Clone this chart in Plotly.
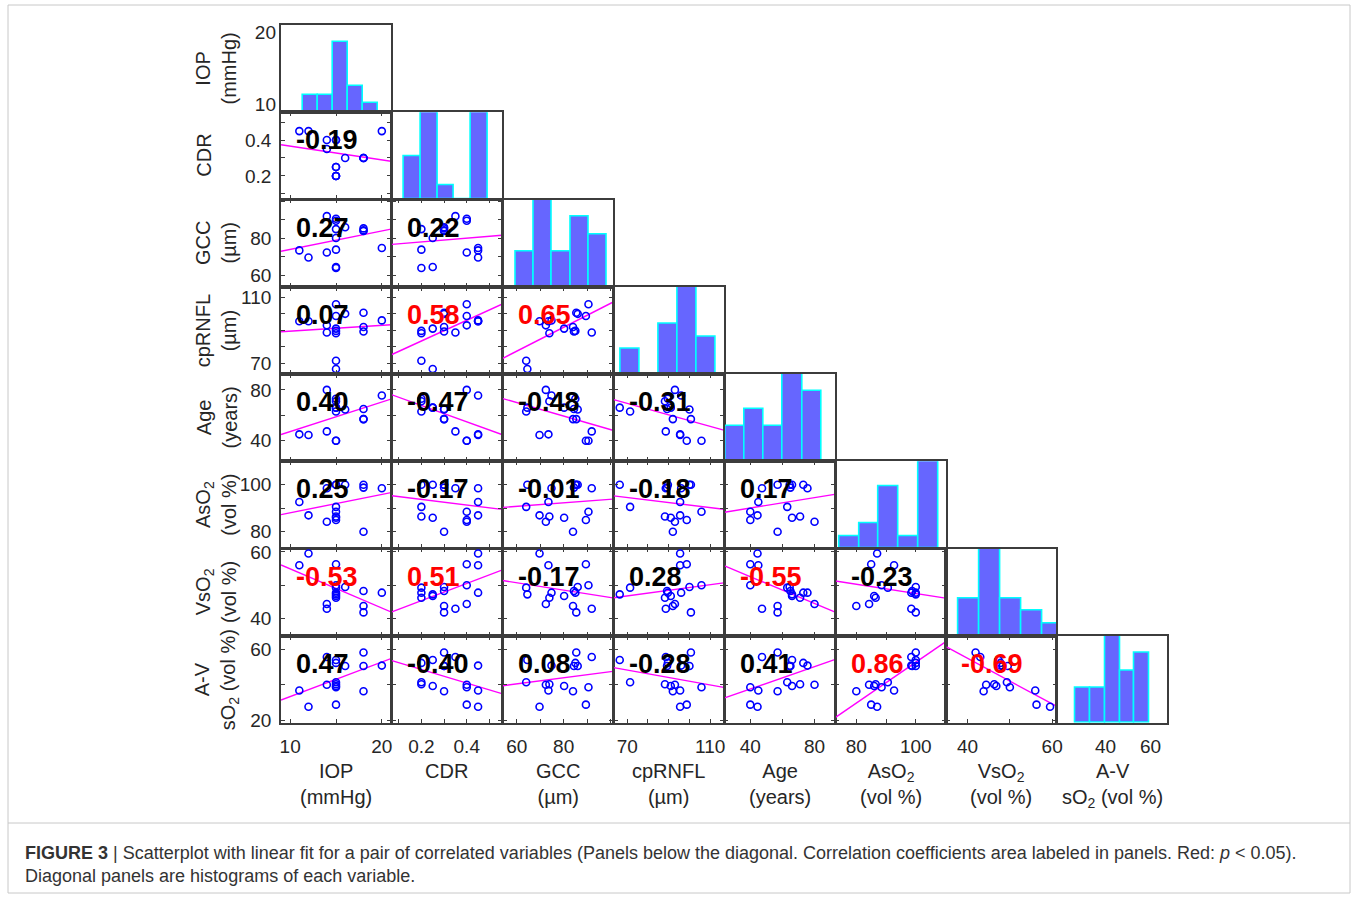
import numpy as np
import plotly.graph_objects as go

# ---------------- data (16 subjects) ----------------
iop    = [11, 12, 16, 20, 18, 18, 18, 14, 14, 15, 15, 15, 15, 15, 15, 15]
cdr    = [0.45, 0.45, 0.30, 0.45, 0.30, 0.30, 0.30, 0.40, 0.35, 0.40, 0.40, 0.20, 0.20, 0.25, 0.25, 0.20]
gcc    = [73.5, 69.7, 86.0, 74.8, 85.4, 84.4, 84.0, 72.4, 92.0, 89.5, 90.6, 73.9, 85.0, 80.2, 64.5, 64.0]
cprnfl = [95.5, 95.5, 100.0, 96.0, 100.7, 89.2, 92.0, 93.0, 88.6, 98.7, 105.8, 88.2, 89.6, 91.0, 66.4, 71.4]
age    = [45.0, 44.5, 64.5, 75.6, 57.0, 65.0, 57.0, 80.0, 47.3, 40.0, 40.0, 71.0, 73.0, 66.0, 66.0, 63.0]
aso2   = [92.7, 87.0, 100.0, 98.5, 100.0, 98.8, 80.0, 84.3, 98.5, 85.0, 88.5, 86.5, 100.0, 86.0, 100.0, 90.6]
vso2   = [56.0, 59.5, 49.5, 47.8, 41.9, 48.3, 43.8, 44.4, 43.0, 56.3, 50.0, 46.3, 47.8, 46.8, 47.3, 49.3]
av_so2 = [36.7, 27.5, 50.5, 50.7, 58.1, 50.5, 36.2, 39.9, 55.5, 28.7, 38.5, 40.2, 52.2, 39.2, 53.8, 41.3]

variables = [iop, cdr, gcc, cprnfl, age, aso2, vso2, av_so2]

# axis labels
left_titles = ["IOP<br>(mmHg)", "CDR", "GCC<br>(µm)", "cpRNFL<br>(µm)", "Age<br>(years)",
               "AsO<sub>2</sub><br>(vol %)", "VsO<sub>2</sub><br>(vol %)", "A-V<br>sO<sub>2</sub> (vol %)"]
bottom_titles = left_titles

# tick values / labels for each variable
tick_vals = [[10, 15, 20], [0.1, 0.2, 0.3, 0.4, 0.5], [60, 70, 80, 90, 100], [70, 80, 90, 100, 110],
             [40, 60, 80], [80, 90, 100, 110], [40, 50, 60], [20, 40, 60]]
tick_text_y = [["10", "", "20"], ["", "0.2", "", "0.4", ""], ["60", "", "80", "", ""],
               ["70", "", "", "", "110"], ["40", "", "80"], ["80", "", "100", ""],
               ["40", "", "60"], ["20", "", "60"]]
tick_text_x = [["10", "", "20"], ["", "0.2", "", "0.4", ""], ["60", "", "80", "", ""],
               ["70", "", "", "", "110"], ["40", "", "80"], ["80", "", "100", ""],
               ["40", "", "60"], ["", "40", "60"]]

# correlation coefficients shown in the panels (row by row, below diagonal)
corr_r2 = ["-0.19"]
corr_r3 = ["0.27", "0.22"]
corr_r4 = ["0.07", "0.58", "0.65"]
corr_r5 = ["0.40", "-0.47", "-0.48", "-0.31"]
corr_r6 = ["0.25", "-0.17", "-0.01", "-0.18", "0.17"]
corr_r7 = ["-0.53", "0.51", "-0.17", "0.28", "-0.55", "-0.23"]
corr_r8 = ["0.47", "-0.40", "0.08", "-0.28", "0.41", "0.86", "-0.69"]
sig_r2 = [0]
sig_r3 = [0, 0]
sig_r4 = [0, 1, 1]
sig_r5 = [0, 0, 0, 0]
sig_r6 = [0, 0, 0, 0, 0]
sig_r7 = [1, 1, 0, 0, 1, 0]
sig_r8 = [0, 0, 0, 0, 0, 1, 1]
corr_rows = [[], corr_r2, corr_r3, corr_r4, corr_r5, corr_r6, corr_r7, corr_r8]
sig_rows = [[], sig_r2, sig_r3, sig_r4, sig_r5, sig_r6, sig_r7, sig_r8]

# histogram counts (diagonal panels) and bin spans
hist_iop = [2, 2, 8, 3, 1]
hist_cdr = [3, 6, 1, 0, 6]
hist_gcc = [2, 5, 2, 4, 3]
hist_cp = [2, 0, 4, 7, 3]
hist_age = [2, 3, 2, 5, 4]
hist_aso2 = [1, 2, 5, 1, 7]
hist_vso2 = [3, 7, 3, 2, 1]
hist_av = [2, 2, 5, 3, 4]
hist_counts = [hist_iop, hist_cdr, hist_gcc, hist_cp, hist_age, hist_aso2, hist_vso2, hist_av]
hist_top = [10, 6, 5, 7, 5, 7, 7, 5]
hist_lo = [11.4, 0.123, 59.5, 66.7, 24.6, 74.3, 37.8, 26.3]
hist_hi = [19.55, 0.493, 98.6, 112.8, 84.2, 107.5, 62.8, 59.7]

# ---------------- layout geometry ----------------
W, H = 1357, 899
N = 8
ranges = [[9, 21], [0.07, 0.555], [54, 101], [63.5, 116.5], [24, 92.5], [73, 110], [35, 61], [18.5, 67.5]]
COLX0, COLW, COLSTEP = 281.0, 110.0, 110.9
ROWY0, ROWH, ROWSTEP = 25.0, 87.0, 87.25

FONT = "Liberation Sans, Arial, sans-serif"
TICKFONT = dict(family=FONT, size=19, color="#262626")
FRAME = "#3c3c3c"


def px(x):
    return x / W


def py(y):
    return 1 - y / H


def axname(prefix, k):
    return prefix if k == 1 else f"{prefix}{k}"


fig = go.Figure()
layout = {}
annotations = []
shapes = []
k = 0
for i in range(N):
    for j in range(i + 1):
        k += 1
        x0 = COLX0 + j * COLSTEP
        y0 = ROWY0 + i * ROWSTEP
        xa = axname("x", k)
        ya = axname("y", k)
        xkey = "xaxis" if k == 1 else f"xaxis{k}"
        ykey = "yaxis" if k == 1 else f"yaxis{k}"
        diag = (i == j)
        bottom = (i == N - 1)
        left = (j == 0)
        xax = dict(domain=[px(x0), px(x0 + COLW)], range=ranges[j], anchor=ya,
                   showline=True, mirror=True, linecolor=FRAME, linewidth=1.6,
                   showgrid=False, zeroline=False, fixedrange=True,
                   tickvals=tick_vals[j], ticktext=tick_text_x[j],
                   ticks="inside" if not diag else "", ticklen=4, tickcolor=FRAME, tickwidth=1,
                   showticklabels=bottom, tickfont=TICKFONT, ticklabelstandoff=6)
        if not diag:
            xax["mirror"] = "allticks"
        if diag:
            yax = dict(domain=[py(y0 + ROWH), py(y0)], range=[0, hist_top[i]], anchor=xa,
                       showline=True, mirror=True, linecolor=FRAME, linewidth=1.6,
                       showgrid=False, zeroline=False, fixedrange=True,
                       showticklabels=False, ticks="")
        else:
            yax = dict(domain=[py(y0 + ROWH), py(y0)], range=ranges[i], anchor=xa,
                       showline=True, mirror="allticks", linecolor=FRAME, linewidth=1.6,
                       showgrid=False, zeroline=False, fixedrange=True,
                       tickvals=tick_vals[i], ticktext=tick_text_y[i],
                       ticks="inside", ticklen=4, tickcolor=FRAME, tickwidth=1,
                       showticklabels=left, tickfont=TICKFONT, ticklabelstandoff=4)
        layout[xkey] = xax
        layout[ykey] = yax

        if diag:
            lo, hi = hist_lo[i], hist_hi[i]
            counts = hist_counts[i]
            nb = len(counts)
            bw = (hi - lo) / nb
            centers = [lo + bw * (b + 0.5) for b in range(nb)]
            fig.add_trace(go.Bar(x=centers, y=counts, width=[bw] * nb,
                                 marker=dict(color="#6666ff", line=dict(color="#00ffff", width=1.6)),
                                 xaxis=xa, yaxis=ya, showlegend=False, hoverinfo="skip"))
        else:
            xd = np.array(variables[j], dtype=float)
            yd = np.array(variables[i], dtype=float)
            slope, icpt = np.polyfit(xd, yd, 1)
            xs = np.array(ranges[j], dtype=float)
            fig.add_trace(go.Scatter(x=xs, y=slope * xs + icpt, mode="lines",
                                     line=dict(color="#ff00ff", width=1.4),
                                     xaxis=xa, yaxis=ya, showlegend=False, hoverinfo="skip"))
            fig.add_trace(go.Scatter(x=xd, y=yd, mode="markers",
                                     marker=dict(symbol="circle-open", size=7, color="#0000ff",
                                                 line=dict(width=1.6, color="#0000ff")),
                                     xaxis=xa, yaxis=ya, showlegend=False, hoverinfo="skip"))
            txt = corr_rows[i][j]
            col = "#ff0000" if sig_rows[i][j] else "#000000"
            annotations.append(dict(x=px(x0 + 13), y=py(y0 + 28), xref="paper", yref="paper",
                                    text=f"<b>{txt}</b>", showarrow=False, xanchor="left",
                                    yanchor="middle", font=dict(family=FONT, size=27, color=col)))

# y tick labels for the IOP row over the first histogram (overlay axis)
layout["yaxis40"] = dict(overlaying="y", range=ranges[0], anchor="x", side="left",
                         tickvals=tick_vals[0], ticktext=tick_text_y[0], showline=False,
                         showgrid=False, zeroline=False, ticks="", tickfont=TICKFONT,
                         ticklabelstandoff=4, fixedrange=True)
fig.add_trace(go.Scatter(x=[None], y=[None], xaxis="x", yaxis="y40", showlegend=False))

# axis titles
for i in range(N):
    yc = ROWY0 + i * ROWSTEP + ROWH / 2
    two = "<br>" in left_titles[i]
    annotations.append(dict(x=px(216 if two else 204), y=py(yc), xref="paper", yref="paper",
                            text=left_titles[i], showarrow=False, textangle=-90,
                            xanchor="center", yanchor="middle",
                            font=dict(family=FONT, size=20, color="#262626")))
for j in range(N):
    xc = COLX0 + j * COLSTEP + COLW / 2
    annotations.append(dict(x=px(xc), y=py(758), xref="paper", yref="paper",
                            text=bottom_titles[j], showarrow=False,
                            xanchor="center", yanchor="top",
                            font=dict(family=FONT, size=20, color="#262626")))

# caption
annotations.append(dict(x=px(23), y=py(853), xref="paper", yref="paper", showarrow=False,
                        xanchor="left", yanchor="middle",
                        text="<b>FIGURE 3</b> | Scatterplot with linear fit for a pair of correlated variables "
                             "(Panels below the diagonal. Correlation coefficients area labeled in panels. "
                             "Red: <i>p</i> &lt; 0.05).",
                        font=dict(family=FONT, size=18, color="#333333")))
annotations.append(dict(x=px(23), y=py(876), xref="paper", yref="paper", showarrow=False,
                        xanchor="left", yanchor="middle",
                        text="Diagonal panels are histograms of each variable.",
                        font=dict(family=FONT, size=18, color="#333333")))

shapes.append(dict(type="rect", xref="paper", yref="paper", x0=px(8), x1=px(1350), y0=py(893), y1=py(5),
                   line=dict(color="#c8c8c8", width=1)))
shapes.append(dict(type="line", xref="paper", yref="paper", x0=px(8), x1=px(1350), y0=py(823), y1=py(823),
                   line=dict(color="#c8c8c8", width=1)))

fig.update_layout(**layout)
fig.update_layout(width=W, height=H, margin=dict(l=0, r=0, t=0, b=0, pad=0, autoexpand=False),
                  paper_bgcolor="white", plot_bgcolor="white", showlegend=False,
                  annotations=annotations, shapes=shapes, bargap=0,
                  font=dict(family=FONT, color="#262626"))
fig.write_html("out.html", config={"displayModeBar": False},
               post_script="document.body.style.margin='0';document.body.style.overflow='hidden';")
